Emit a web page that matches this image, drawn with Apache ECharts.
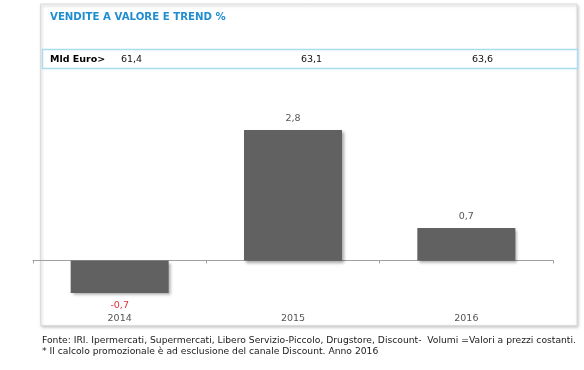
<!DOCTYPE html>
<html><head><meta charset="utf-8">
<script src="https://cdn.jsdelivr.net/npm/echarts@6/dist/echarts.min.js"></script>
<style>html,body{margin:0;padding:0;background:#fff}#c{width:584px;height:370px}</style>
</head><body><div id="c"></div>
<script>
const categories = ['2014', '2015', '2016'];
const trendValues = [-0.7, 2.8, 0.7];
const mldEuro = ['61,4', '63,1', '63,6'];
const titleText = 'VENDITE A VALORE E TREND %';
const footLines = [
  'Fonte: IRI. Ipermercati, Supermercati, Libero Servizio-Piccolo, Drugstore, Discount-  Volumi =Valori a prezzi costanti.',
  '* Il calcolo promozionale è ad esclusione del canale Discount. Anno 2016'
];

const FONT = 'DejaVu Sans';
const fmt = v => String(v).replace('.', ',');
const chart = echarts.init(document.getElementById('c'), null, {renderer: 'canvas'});

const barData = trendValues.map(v => ({
  value: v,
  label: v < 0
    ? {position: 'bottom', color: '#e0303c', distance: 7}
    : {position: 'top', color: '#555', distance: 6}
}));

const euroX = [121, 301, 472];

chart.setOption({
  animation: false,
  backgroundColor: '#fff',
  title: {
    text: titleText, left: 50, top: 12, padding: 0,
    textStyle: {fontFamily: FONT, fontSize: 10.2, fontWeight: 'bold', color: '#1f8dcf'}
  },
  graphic: [
    {type: 'rect', z: -10, shape: {x: 40.5, y: 4, width: 536.5, height: 321.5},
     style: {fill: '#fff', stroke: '#dcdcdc', lineWidth: 1, shadowColor: 'rgba(0,0,0,0.25)', shadowBlur: 3, shadowOffsetX: 1, shadowOffsetY: 1.5}},
    {type: 'rect', z: -5, shape: {x: 42.5, y: 49.5, width: 535, height: 19},
     style: {fill: '#fff', stroke: '#a9dcef', lineWidth: 1.5}},
    {type: 'text', x: 50, y: 59.5, style: {text: 'Mld Euro>', fontFamily: FONT, fontSize: 9.5, fontWeight: 'bold', fill: '#000', verticalAlign: 'middle'}},
    ...mldEuro.map((t, i) => ({type: 'text', x: euroX[i], y: 59.5,
      style: {text: t, fontFamily: FONT, fontSize: 9.5, fill: '#111', verticalAlign: 'middle'}})),
    ...footLines.map((t, i) => ({type: 'text', x: 42, y: 341 + i * 11,
      style: {text: t, fontFamily: FONT, fontSize: 9.2, fill: '#1a1a1a', verticalAlign: 'middle'}}))
  ],
  grid: {left: 33, right: 31, top: 120.7, bottom: 62.9, containLabel: false},
  xAxis: [
    {type: 'category', data: categories, position: 'bottom',
     axisLine: {show: false, onZero: false}, axisTick: {show: false},
     axisLabel: {fontFamily: FONT, fontSize: 9.5, color: '#555', margin: 6}},
    {type: 'category', data: categories, position: 'bottom',
     axisLine: {show: true, onZero: true, lineStyle: {color: '#a0a0a0', width: 1}},
     axisTick: {show: true, length: 3, lineStyle: {color: '#a0a0a0'}},
     axisLabel: {show: false}}
  ],
  yAxis: {type: 'value', min: -1, max: 3, show: false, splitLine: {show: false}},
  series: [{
    type: 'bar', xAxisIndex: 0, data: barData, barWidth: 98,
    itemStyle: {color: '#616161', shadowColor: 'rgba(0,0,0,0.35)', shadowBlur: 3, shadowOffsetX: 2, shadowOffsetY: 2},
    label: {show: true, fontFamily: FONT, fontSize: 9.5, formatter: p => fmt(p.value)}
  }]
});
</script></body></html>
